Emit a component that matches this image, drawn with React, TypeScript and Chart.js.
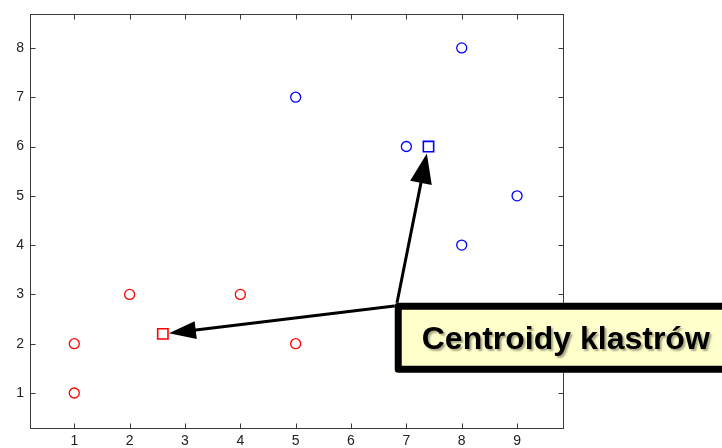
import { useEffect, useRef } from "react";
import { Chart, registerables } from "chart.js";

Chart.register(...registerables);

// ---- data ----
const redX = [1, 1, 2, 4, 5];
const redY = [1, 2, 3, 3, 2];
const blueX = [5, 7, 8, 8, 9];
const blueY = [7, 6, 8, 4, 5];
const centroidX = [2.6, 7.4];
const centroidY = [2.2, 6];
const centroidColors = ["#FF0000", "#0000FF"];
const xTicks = [1, 2, 3, 4, 5, 6, 7, 8, 9];
const yTicks = [1, 2, 3, 4, 5, 6, 7, 8];
const xRange = [0.2, 9.83];
const yRange = [0.29, 8.68];
const labelText = "Centroidy klastrów";
// annotation anchor (data coords)
const arrowStart = [6.82, 2.77];
const arrowTipBlue = [7.37, 5.86];
const arrowTipRed = [2.71, 2.21];
const boxLeftTop = [6.79, 2.83];
const boxBottom = 1.41;

const FONT = "'Liberation Sans', Arial, Helvetica, sans-serif";

function drawArrow(ctx: CanvasRenderingContext2D, sx: number, sy: number, tx: number, ty: number, headLen: number, headW: number) {
  const ang = Math.atan2(ty - sy, tx - sx);
  const bx = tx - headLen * Math.cos(ang);
  const by = ty - headLen * Math.sin(ang);
  ctx.beginPath();
  ctx.moveTo(sx, sy);
  ctx.lineTo(bx + 2 * Math.cos(ang), by + 2 * Math.sin(ang));
  ctx.stroke();
  const nx = -Math.sin(ang), ny = Math.cos(ang);
  ctx.beginPath();
  ctx.moveTo(tx, ty);
  ctx.lineTo(bx + nx * headW / 2, by + ny * headW / 2);
  ctx.lineTo(bx - nx * headW / 2, by - ny * headW / 2);
  ctx.closePath();
  ctx.fill();
}

const framePlugin = {
  id: "frame",
  beforeDatasetsDraw(chart: any) {
    const { ctx, chartArea, scales } = chart;
    const { left, top, right, bottom } = chartArea;
    const xs = scales.x, ys = scales.y;
    ctx.save();
    ctx.strokeStyle = "#3a3a3a";
    ctx.lineWidth = 1;
    const L = Math.round(left) + 0.5, T = Math.round(top) + 0.5, R = Math.round(right) + 0.5, B = Math.round(bottom) + 0.5;
    ctx.strokeRect(L, T, R - L, B - T);
    ctx.beginPath();
    xTicks.forEach((v) => {
      const px = Math.round(xs.getPixelForValue(v)) + 0.5;
      ctx.moveTo(px, B); ctx.lineTo(px, B - 5);
      ctx.moveTo(px, T); ctx.lineTo(px, T + 5);
    });
    yTicks.forEach((v) => {
      const py = Math.round(ys.getPixelForValue(v)) + 0.5;
      ctx.moveTo(L, py); ctx.lineTo(L + 5, py);
      ctx.moveTo(R, py); ctx.lineTo(R - 5, py);
    });
    ctx.stroke();

    // arrows (drawn under the markers)
    const sx = xs.getPixelForValue(arrowStart[0]);
    const sy = ys.getPixelForValue(arrowStart[1]);
    ctx.strokeStyle = "#000";
    ctx.fillStyle = "#000";
    ctx.lineWidth = 3;
    ctx.lineCap = "round";
    drawArrow(ctx, sx, sy, xs.getPixelForValue(arrowTipBlue[0]), ys.getPixelForValue(arrowTipBlue[1]), 30, 22);
    drawArrow(ctx, sx, sy, xs.getPixelForValue(arrowTipRed[0]), ys.getPixelForValue(arrowTipRed[1]), 27, 18);
    ctx.restore();
  },
};

const annotationPlugin = {
  id: "annot",
  afterDraw(chart: any) {
    const { ctx, scales } = chart;
    const xs = scales.x, ys = scales.y;
    ctx.save();
    const bl = xs.getPixelForValue(boxLeftTop[0]);
    const bt = ys.getPixelForValue(boxLeftTop[1]);
    const bb = ys.getPixelForValue(boxBottom);
    const br = chart.width + 20;
    ctx.fillStyle = "#FFFFCC";
    ctx.fillRect(bl, bt, br - bl, bb - bt);
    ctx.lineWidth = 7;
    ctx.lineJoin = "round";
    ctx.strokeStyle = "#000";
    ctx.strokeRect(bl + 3.5, bt + 3.5, br - bl, bb - bt - 7);

    ctx.font = `bold 32px ${FONT}`;
    ctx.textAlign = "left";
    ctx.textBaseline = "alphabetic";
    ctx.shadowColor = "rgba(0,0,0,0.35)";
    ctx.shadowOffsetX = 2;
    ctx.shadowOffsetY = 2;
    ctx.shadowBlur = 2;
    ctx.fillStyle = "#000";
    ctx.fillText(labelText, bl + 27, bt + 46);
    ctx.restore();
  },
};

export default function App() {
  const ref = useRef<HTMLCanvasElement | null>(null);
  useEffect(() => {
    document.body.style.margin = "0";
    const canvas = ref.current;
    if (!canvas) return;
    const pts = (xs: number[], ys: number[]) => xs.map((x, i) => ({ x, y: ys[i] }));
    const chart = new Chart(canvas, {
      type: "scatter",
      data: {
        datasets: [
          { data: pts(redX, redY), pointBorderColor: "#FF0000", borderColor: "#FF0000", pointBackgroundColor: "rgba(255,255,255,0)", backgroundColor: "rgba(255,255,255,0)", pointStyle: "circle", pointRadius: 5, pointBorderWidth: 1.3 },
          { data: pts(blueX, blueY), pointBorderColor: "#0000FF", borderColor: "#0000FF", pointBackgroundColor: "rgba(255,255,255,0)", backgroundColor: "rgba(255,255,255,0)", pointStyle: "circle", pointRadius: 5, pointBorderWidth: 1.3 },
          { data: pts(centroidX, centroidY), pointBorderColor: centroidColors, borderColor: "#FF0000", pointBackgroundColor: "rgba(255,255,255,0)", backgroundColor: "rgba(255,255,255,0)", pointStyle: "rect", pointRadius: 7.3, pointBorderWidth: 1.6 },
        ] as any,
      },
      options: {
        animation: false,
        responsive: false,
        devicePixelRatio: 1,
        layout: { padding: { left: 0, top: 9, right: 159, bottom: 0 } },
        plugins: { legend: { display: false }, tooltip: { enabled: false }, colors: { enabled: false } },
        events: [],
        scales: {
          x: {
            type: "linear",
            min: xRange[0],
            max: xRange[1],
            grid: { display: false, drawTicks: false },
            border: { display: false },
            afterBuildTicks: (s: any) => { s.ticks = xTicks.map((v) => ({ value: v })); },
            afterFit: (s: any) => { s.height = 20; },
            ticks: { color: "#222", font: { family: FONT, size: 14 }, padding: 5, maxRotation: 0, callback: (v: any) => String(v) },
          },
          y: {
            type: "linear",
            min: yRange[0],
            max: yRange[1],
            grid: { display: false, drawTicks: false },
            border: { display: false },
            afterBuildTicks: (s: any) => { s.ticks = yTicks.map((v) => ({ value: v })); },
            afterFit: (s: any) => { s.width = 30; },
            ticks: { color: "#222", font: { family: FONT, size: 14 }, padding: 6, callback: (v: any) => String(v) },
          },
        },
      } as any,
      plugins: [framePlugin, annotationPlugin],
    });
    return () => chart.destroy();
  }, []);
  return (
    <div style={{ position: "fixed", left: 0, top: 0, width: 722, height: 448, background: "#fff" }}>
      <canvas ref={ref} width={722} height={448} style={{ display: "block" }} />
    </div>
  );
}
